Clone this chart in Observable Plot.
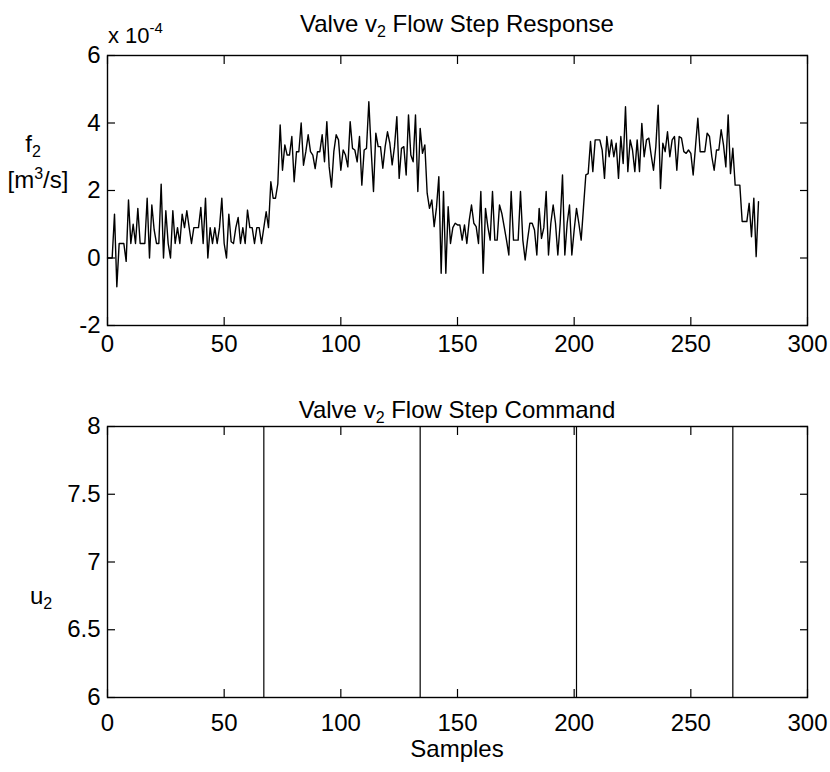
<!DOCTYPE html>
<html><head><meta charset="utf-8">
<script src="https://cdn.jsdelivr.net/npm/d3@7"></script>
<script src="https://cdn.jsdelivr.net/npm/@observablehq/plot@0.6"></script>
<style>
html,body{margin:0;padding:0;background:#fff;}
#chart{position:relative;width:830px;height:772px;overflow:hidden;background:#fff;font-family:"Liberation Sans",Arial,Helvetica,sans-serif;}
#chart > svg{position:absolute;left:0;}
</style></head><body><div id="chart"></div>
<script>
// f2 flow response, in units of 1e-4 m^3/s, one value per sample (0..279)
const flow = [
  0,0,0,1.3,-0.85,0.43,0.43,0.43,-0.1,1.72,
  0.43,1.0,0.43,1.47,0.43,0.43,0.43,1.77,0,1.57,
  0.83,0.43,0.43,2.19,0,1.4,0.43,0,1.4,0.43,
  0.9,0.43,1.3,0.9,1.4,0.9,0.43,0.9,0.9,0.9,
  1.5,0.43,1.77,0,0.9,0.43,0.9,0.43,0.9,1.77,
  0.43,0,1.3,0.48,0.43,0.9,1.2,0.43,0.9,0.43,
  1.42,0.9,0.9,0.43,0.9,0.9,0.43,0.9,1.37,0.9,
  2.26,1.77,1.77,2.2,3.94,2.6,3.35,3.05,3.05,3.6,
  2.26,3.15,3.15,4.0,2.75,3.15,3.65,3.15,3.05,2.65,
  3.15,3.15,3.65,2.85,4.04,2.7,2.1,3.15,3.65,3.5,
  2.6,3.2,3.05,2.7,4.04,3.25,3.2,2.85,3.6,2.16,
  3.2,3.25,4.63,3.2,1.97,3.7,3.3,3.3,2.66,3.3,
  3.74,3.4,2.76,3.3,4.19,2.36,3.25,3.3,2.46,4.24,
  3.05,2.85,4.24,1.97,3.84,3.1,3.35,1.92,1.47,1.72,
  0.93,1.5,2.41,-0.45,1.97,-0.45,1.52,0.43,0.9,1.03,
  0.98,0.98,0.53,0.98,0.43,1.1,1.57,1.03,0.93,0.43,
  1.97,-0.45,1.47,0.93,0.53,1.97,0.53,0.53,1.57,1.32,
  0.93,0.53,0.09,1.97,0.53,0.53,0.53,1.97,0.53,-0.06,
  0.53,1.03,1.03,0.83,0.09,1.47,0.58,0.9,1.97,0.09,
  1.03,1.57,1.03,0.09,1.03,2.46,0.09,1.03,1.57,0.09,
  0.83,1.47,1.03,0.53,1.5,2.46,2.5,3.45,2.56,3.5,
  3.5,3.5,3.2,2.36,3.6,3.0,3.5,3.0,3.4,2.36,
  3.6,2.8,4.48,2.56,3.5,3.2,2.56,3.5,2.56,3.99,
  3.0,3.5,3.55,3.05,2.6,3.3,4.53,2.06,3.4,3.15,
  3.74,3.0,3.5,3.6,2.6,3.6,3.55,3.15,3.1,3.2,
  3.1,2.46,3.3,4.14,3.15,3.15,3.15,3.7,3.6,3.0,
  2.6,3.2,3.2,3.8,3.35,2.7,4.24,2.5,3.25,2.16,
  2.16,2.16,1.08,1.08,1.08,1.62,0.63,1.77,0.04,1.67
];
const samples = flow.map((_, i) => i);
// samples at which the u2 step command switches
const stepSamples = [67, 134, 201, 268];

const xTicks = [0, 50, 100, 150, 200, 250, 300];
const xDomain = [0, 300];
const yTicksTop = [-2, 0, 2, 4, 6];
const yDomainTop = [-2, 6];
const yTicksBottom = [6, 6.5, 7, 7.5, 8];
const yDomainBottom = [6, 8];

const FONT = '"Liberation Sans", Arial, Helvetica, sans-serif';
const rows = samples.map(i => ({sample: i, f: flow[i]}));
const plain = d => String(d);

function boxAxes(yTicks, xPad) {
  const blank = () => "";
  return [
    Plot.frame({stroke: "black", strokeWidth: 1.4}),
    Plot.axisX(xTicks, {anchor: "bottom", tickSize: 0, tickPadding: xPad, label: null, fontSize: 24, tickFormat: plain}),
    Plot.axisY(yTicks, {anchor: "left", tickSize: 0, tickPadding: 7, label: null, fontSize: 24, tickFormat: plain}),
    Plot.axisX(xTicks, {anchor: "bottom", tickSize: -8, tickFormat: blank, label: null, strokeWidth: 1.2}),
    Plot.axisX(xTicks, {anchor: "top", tickSize: -8, tickFormat: blank, label: null, strokeWidth: 1.2}),
    Plot.axisY(yTicks, {anchor: "left", tickSize: -8, tickFormat: blank, label: null, strokeWidth: 1.2}),
    Plot.axisY(yTicks, {anchor: "right", tickSize: -8, tickFormat: blank, label: null, strokeWidth: 1.2})
  ];
}

const topPlot = Plot.plot({
  width: 830, height: 360,
  marginLeft: 107, marginRight: 23, marginTop: 55, marginBottom: 35,
  x: {domain: xDomain},
  y: {domain: yDomainTop},
  style: {fontFamily: FONT, fontSize: "24px", color: "black", background: "white", overflow: "visible"},
  marks: [
    Plot.lineY(rows, {x: "sample", y: "f", stroke: "black", strokeWidth: 1.4}),
    ...boxAxes(yTicksTop, 9)
  ]
});
topPlot.style.top = "0px";

const bottomPlot = Plot.plot({
  width: 830, height: 392,
  marginLeft: 107, marginRight: 23, marginTop: 46, marginBottom: 75,
  x: {domain: xDomain},
  y: {domain: yDomainBottom},
  style: {fontFamily: FONT, fontSize: "24px", color: "black", background: "white", overflow: "visible"},
  marks: [
    Plot.ruleX(stepSamples, {stroke: "black", strokeWidth: 1.2}),
    ...boxAxes(yTicksBottom, 16)
  ]
});
bottomPlot.style.top = "380px";

const chart = document.getElementById("chart");
chart.appendChild(topPlot);
chart.appendChild(bottomPlot);

const NS = "http://www.w3.org/2000/svg";
const overlay = document.createElementNS(NS, "svg");
overlay.setAttribute("width", 830);
overlay.setAttribute("height", 772);
overlay.style.top = "0px";
overlay.style.pointerEvents = "none";
overlay.style.fontFamily = FONT;
overlay.innerHTML = `
<text x="457" y="32" font-size="24" text-anchor="middle">Valve v<tspan dy="5" font-size="16">2</tspan><tspan dy="-5"> Flow Step Response</tspan></text>
<text x="108" y="43" font-size="22">x 10<tspan dy="-10" font-size="15">-4</tspan></text>
<text x="33" y="152" font-size="24" text-anchor="middle">f<tspan dy="5" font-size="16">2</tspan></text>
<text x="38" y="188" font-size="24" text-anchor="middle">[m<tspan dy="-9" font-size="16">3</tspan><tspan dy="9">/s]</tspan></text>
<text x="457" y="418" font-size="24" text-anchor="middle">Valve v<tspan dy="5" font-size="16">2</tspan><tspan dy="-5"> Flow Step Command</tspan></text>
<text x="30" y="604" font-size="24">u<tspan dy="5" font-size="16">2</tspan></text>
<text x="457" y="757" font-size="24" text-anchor="middle">Samples</text>
`;
chart.appendChild(overlay);
</script></body></html>
